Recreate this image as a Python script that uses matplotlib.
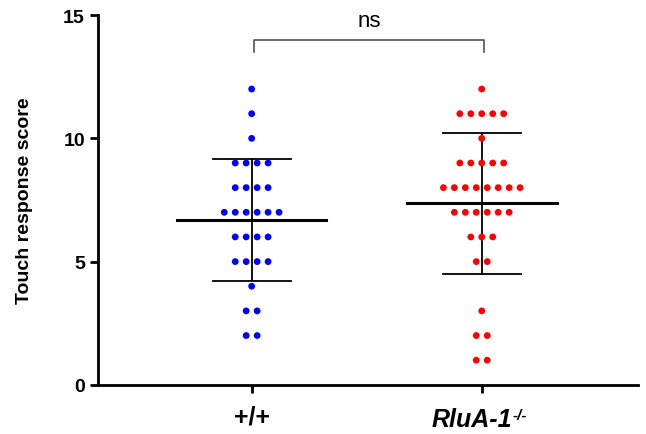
import numpy as np
import matplotlib
matplotlib.use("Agg")
import matplotlib.pyplot as plt
from matplotlib import transforms

plt.rcParams["font.family"] = ["Liberation Sans", "DejaVu Sans"]

# scores and how many animals had each score
wt_scores = [12, 11, 10, 9, 8, 7, 6, 5, 4, 3, 2]
wt_counts = [1, 1, 1, 4, 4, 6, 4, 4, 1, 2, 2]
ko_scores = [12, 11, 10, 9, 8, 7, 6, 5, 3, 2, 1]
ko_counts = [1, 5, 1, 5, 8, 6, 3, 2, 1, 2, 2]

groups = ["+/+", "RluA-1"]
ko_sup = "-/-"
colors = ["#0000ff", "#ff0000"]
sig_label = "ns"


def swarm(center, scores, counts, step=0.0476):
    xs, ys = [], []
    for s, n in zip(scores, counts):
        for i in range(n):
            xs.append(center + (i - (n - 1) / 2) * step)
            ys.append(s)
    return np.array(xs), np.array(ys)


fig = plt.figure(figsize=(6.46, 4.35), dpi=100)
ax = fig.add_axes([0.152, 0.113, 0.836, 0.850])

for pos, (sc, ct, col) in enumerate([(wt_scores, wt_counts, colors[0]),
                                     (ko_scores, ko_counts, colors[1])]):
    xs, ys = swarm(pos, sc, ct)
    ax.scatter(xs, ys, s=24, color=col, edgecolors="none", zorder=3)
    m = ys.mean()
    sd = ys.std(ddof=1)
    ax.plot([pos - 0.325, pos + 0.325], [m, m], color="black", lw=2.2, zorder=4)
    ax.plot([pos, pos], [m - sd, m + sd], color="black", lw=1.3, zorder=2)
    for yv in (m - sd, m + sd):
        ax.plot([pos - 0.17, pos + 0.17], [yv, yv], color="black", lw=1.3, zorder=2)

# significance bracket
ax.plot([0.01, 0.01, 1.01, 1.01], [13.5, 14.0, 14.0, 13.5], color="#444444", lw=1.1,
        clip_on=False)
ax.text(0.51, 14.35, sig_label, ha="center", va="bottom", fontsize=16, clip_on=False)

ax.set_xlim(-0.667, 1.68)
ax.set_ylim(0, 15)
ax.set_yticks([0, 5, 10, 15])
ax.set_xticks([0, 1])
ax.set_xticklabels([groups[0], ""], fontsize=18, fontweight="bold")
ax.set_ylabel("Touch response score", fontsize=14, fontweight="bold", labelpad=22)
for lab in ax.get_yticklabels():
    lab.set_fontweight("bold")
    lab.set_fontsize(14)

for side in ("top", "right"):
    ax.spines[side].set_visible(False)
for side in ("left", "bottom"):
    ax.spines[side].set_linewidth(2)
ax.tick_params(axis="both", width=2, length=6)
ax.tick_params(axis="x", pad=8)

# knockout label drawn by hand so the superscript can sit beside it
lab_tr = ax.get_xaxis_transform() + transforms.ScaledTranslation(-7 / 72, -16 / 72, fig.dpi_scale_trans)
ko = ax.text(1, 0, groups[1], transform=lab_tr, ha="center", va="top",
             fontsize=18, fontweight="bold", fontstyle="italic")
ax.annotate(ko_sup, xy=(1.0, 1.0), xycoords=ko, xytext=(0.5, -1),
            textcoords="offset points", ha="left", va="top",
            fontsize=11, fontweight="bold", fontstyle="italic")

fig.savefig("out.png", dpi=100)
